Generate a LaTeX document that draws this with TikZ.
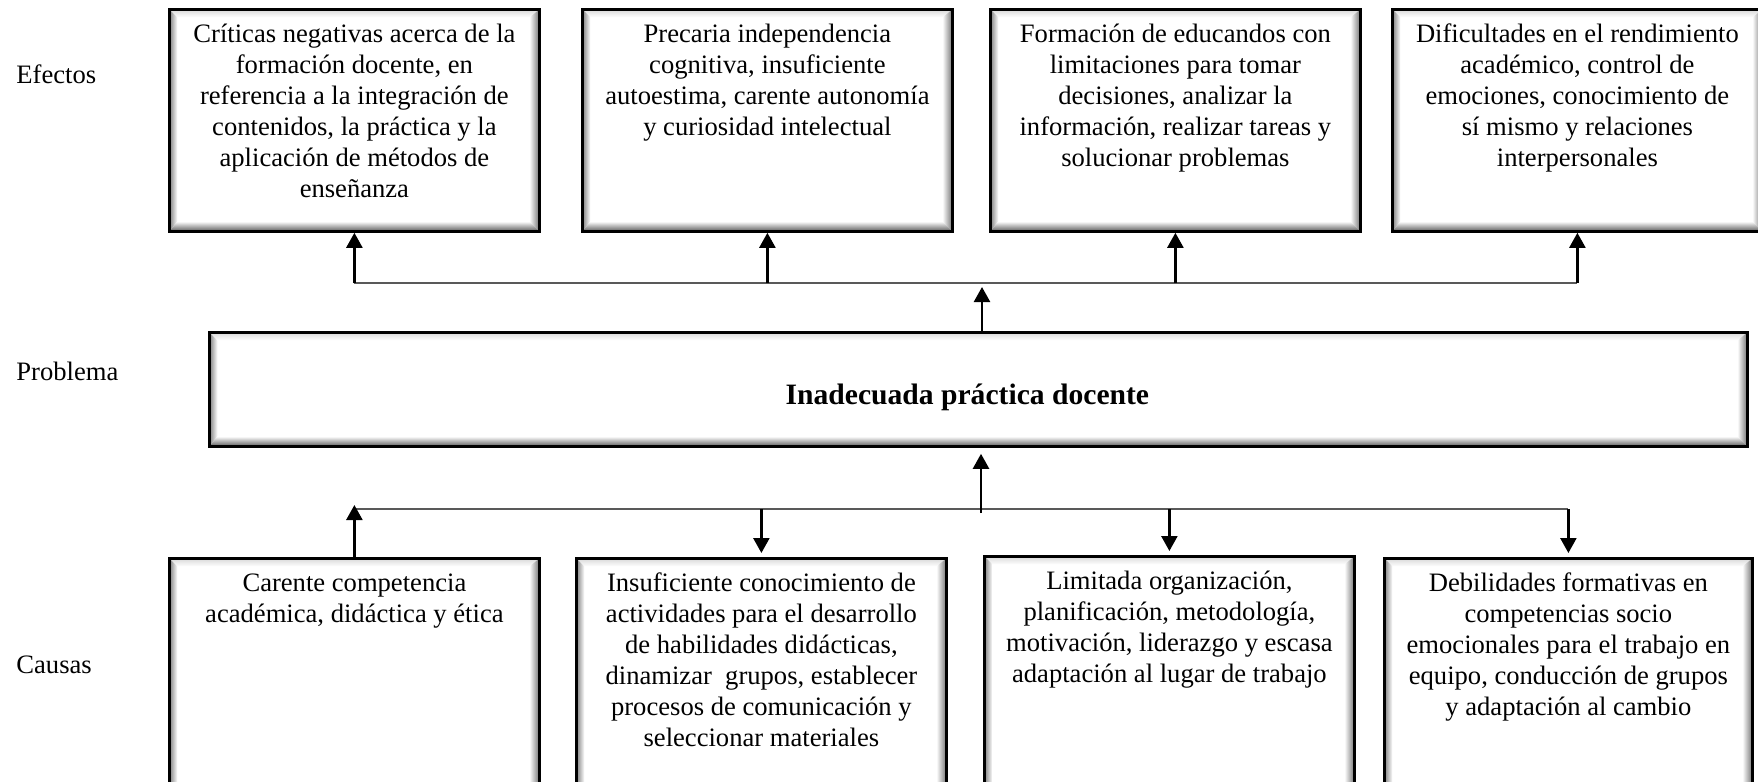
\documentclass[tikz,border=0pt]{standalone}
\usepackage{fontspec}
\setmainfont{Liberation Serif}
\usepackage{tikz}
\usetikzlibrary{arrows.meta,calc,positioning}
\newcommand\caja[2]{\parbox[c][#1][t]{182pt}{\centering\rule{0pt}{16.5pt}#2}}

\begin{document}
\begin{tikzpicture}[x=0.5pt,y=-0.5pt,
    font=\fontsize{13.3}{15.5}\selectfont,
    bevel/.style={path picture={
        \coordinate (bsw) at (path picture bounding box.south west);
        \coordinate (bne) at (path picture bounding box.north east);
        \shade[top color=black!15, bottom color=white]
            (bsw|-bne) -- (bne) -- ($(bne)+(-5pt,-4pt)$) -- ($(bsw|-bne)+(4pt,-4pt)$) -- cycle;
        \shade[left color=black!50, right color=white]
            (bsw) -- ($(bsw)+(4pt,5pt)$) -- ($(bsw|-bne)+(4pt,-4pt)$) -- (bsw|-bne) -- cycle;
        \shade[left color=white, right color=black!55]
            (bsw-|bne) -- (bne) -- ($(bne)+(-5pt,-4pt)$) -- ($(bsw-|bne)+(-5pt,5pt)$) -- cycle;
        \shade[bottom color=black!65, top color=white]
            (bsw) -- (bsw-|bne) -- ($(bsw-|bne)+(-5pt,5pt)$) -- ($(bsw)+(4pt,5pt)$) -- cycle;
    }},
    caja/.style={draw=black, line width=1.4pt, fill=white, inner sep=0pt,
        anchor=north west, minimum width=185pt, bevel},
    etiqueta/.style={anchor=base west, inner sep=0pt},
    linea/.style={draw=black!65, line width=0.9pt},
    flecha/.style={draw=black, line width=1.2pt, -{Triangle[length=7.5pt,width=8pt]}}]
\useasboundingbox (0,0) rectangle (1758,782);

\node[etiqueta] (lefectos) at (16,83) {Efectos};
\node[etiqueta] (lproblema) at (16,380) {Problema};
\node[etiqueta] (lcausas) at (16,673) {Causas};

\node[caja] (e1) at (168,8) {\caja{111pt}{Críticas negativas acerca de la\\ formación docente, en\\ referencia a la integración de\\ contenidos, la práctica y la\\ aplicación de métodos de\\ enseñanza}};
\node[caja] (e2) at (581,8) {\caja{111pt}{Precaria independencia\\ cognitiva, insuficiente\\ autoestima, carente autonomía\\ y curiosidad intelectual}};
\node[caja] (e3) at (989,8) {\caja{111pt}{Formación de educandos con\\ limitaciones para tomar\\ decisiones, analizar la\\ información, realizar tareas y\\ solucionar problemas}};
\node[caja] (e4) at (1391,8) {\caja{111pt}{Dificultades en el rendimiento\\ académico, control de\\ emociones, conocimiento de\\ sí mismo y relaciones\\ interpersonales}};

\node[caja, minimum width=769pt, minimum height=57pt, font=\fontsize{14.8}{16}\selectfont\bfseries] (prob) at (208,331) {\raisebox{-7.5pt}[0pt][0pt]{Inadecuada práctica docente}\kern11pt};

\node[caja] (c1) at (168,557) {\caja{124pt}{Carente competencia\\ académica, didáctica y ética}};
\node[caja] (c2) at (575,557) {\caja{124pt}{Insuficiente conocimiento de\\ actividades para el desarrollo\\ de habilidades didácticas,\\ dinamizar\ \ grupos, establecer\\ procesos de comunicación y\\ seleccionar materiales}};
\node[caja] (c3) at (983,555) {\caja{124pt}{Limitada organización,\\ planificación, metodología,\\ motivación, liderazgo y escasa\\ adaptación al lugar de trabajo}};
\node[caja, minimum width=184pt] (c4) at (1383,557) {\caja{124pt}{Debilidades formativas en\\ competencias socio\\ emocionales para el trabajo en\\ equipo, conducción de grupos\\ y adaptación al cambio}};

\coordinate (hubsup) at (982,283);
\coordinate (hubinf) at (981,509);

\draw[linea] (e1.south |- hubsup) -- (e4.south |- hubsup);
\foreach \n in {e1,e2,e3,e4}
    \draw[flecha] (\n.south |- hubsup) -- (\n.south);
\draw[flecha, shorten >=2pt] (hubsup |- prob.north) -- (hubsup);

\draw[linea] (c1.north |- hubinf) -- (c4.north |- hubinf);
\draw[flecha, shorten >=-2pt] (c1.north) -- (c1.north |- hubinf);
\foreach \n in {c2,c3,c4}
    \draw[flecha, shorten >=2pt] (\n.north |- hubinf) -- (\n.north);
\draw[flecha, shorten >=3pt] ([yshift=-2pt]hubinf) -- (hubinf |- prob.south);
\end{tikzpicture}
\end{document}
